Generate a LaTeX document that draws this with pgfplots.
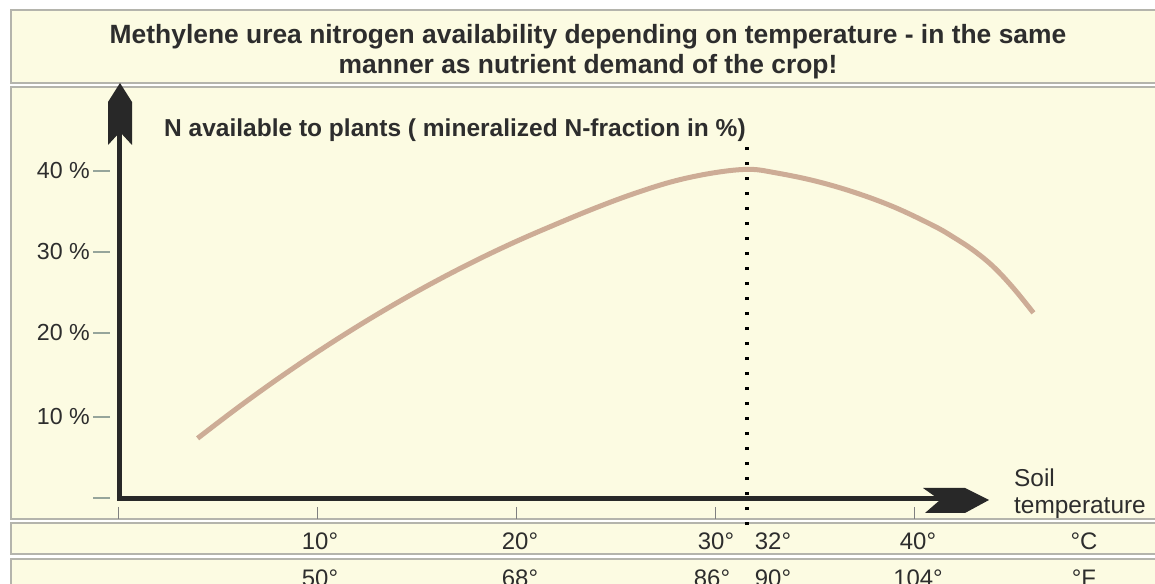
\documentclass[border=0pt]{standalone}
\usepackage{fontspec}
\setmainfont{Liberation Sans}
\usepackage{pgfplots}
\pgfplotsset{compat=1.18}
\definecolor{panel}{RGB}{252,251,226}
\definecolor{edge}{RGB}{180,180,172}
\definecolor{curvec}{RGB}{205,172,150}
\definecolor{txt}{RGB}{45,45,45}
\definecolor{tickc}{RGB}{150,165,155}
\definecolor{axc}{RGB}{40,40,40}
\begin{document}
\begin{tikzpicture}[x=1bp,y=1bp]
\useasboundingbox (0,0) rectangle (1155,584);
\clip (0,0) rectangle (1155,584);
\fill[white] (0,0) rectangle (1155,584);
\foreach \a/\b in {574/501,497/65,61/30,25/-16}{
  \filldraw[fill=panel,draw=edge,line width=1.2bp] (11,\a) rectangle (1175,\b);
}
\node[font=\fontsize{26.5}{30}\selectfont\bfseries,text=txt,align=center] at (588,532)
  {Methylene urea nitrogen availability depending on temperature - in the same\\manner as nutrient demand of the crop!};
\begin{axis}[at={(118bp,85bp)},anchor=south west,scale only axis,
  width=995bp,height=410bp,xmin=0,xmax=50,ymin=0,ymax=50,
  axis lines=none,clip=false]
\addplot[curvec,line width=5bp,smooth,tension=0.6] coordinates {
 (4.0,7.4) (6,11.1) (8,14.6) (10,17.9) (12,21.0) (14,23.9) (16,26.6)
 (18,29.1) (20,31.4) (22,33.5) (24,35.5) (26,37.3) (28,38.8) (30,39.8)
 (31.7,40.2) (33,39.8) (35,38.8) (37,37.4) (39,35.6) (41,33.3) (42,31.9)
 (43,30.3) (44,28.3) (45,25.7) (46,22.7)};
\addplot[black,line width=3.5bp,dash pattern=on 3.5bp off 11.5bp] coordinates {(31.6,-3.2) (31.6,43.6)};
\end{axis}
% axes arrows
\fill[axc] (117,83) rectangle (122,454);
\fill[axc] (120,501) -- (108,482) -- (108,439) -- (120,452) -- (132,439) -- (132,482) -- cycle;
\fill[axc] (117,88) rectangle (940,83);
\fill[axc] (923,96) -- (965,96) -- (989,84) -- (965,71) -- (925,71) -- (940,84) -- cycle;
% y ticks
\foreach \y/\l in {413/40,332/30,251/20,167/10}{
  \draw[tickc,line width=1.2bp] (93,\y) -- (110,\y);
  \node[anchor=east,text=txt,font=\fontsize{23.3}{26}\selectfont,inner sep=0pt] at (90,\y) {\l\ \%};
}
\draw[tickc,line width=1.2bp] (93,86) -- (110,86);
% x ticks
\foreach \x in {118,317,516,715,914}{
  \draw[gray,line width=0.8bp] (\x,77) -- (\x,65);
}
\node[anchor=west,text=txt,font=\fontsize{24.6}{28}\selectfont\bfseries,inner sep=0pt] at (164,454)
  {N available to plants ( mineralized N-fraction in \%)};
\node[anchor=west,text=txt,font=\fontsize{24.5}{27}\selectfont,align=left,inner sep=0pt] at (1014,90)
  {Soil\\temperature};
\foreach \x/\l in {320/10°,520/20°,716/30°,773/32°,918/40°,1084/°C}{
  \node[text=txt,font=\fontsize{24}{26}\selectfont,inner sep=0pt] at (\x,43) {\l};
}
\foreach \x/\l in {320/50°,520/68°,712/86°,773/90°,918/104°,1084/°F}{
  \node[text=txt,font=\fontsize{24}{26}\selectfont,inner sep=0pt] at (\x,6) {\l};
}
\end{tikzpicture}
\end{document}
